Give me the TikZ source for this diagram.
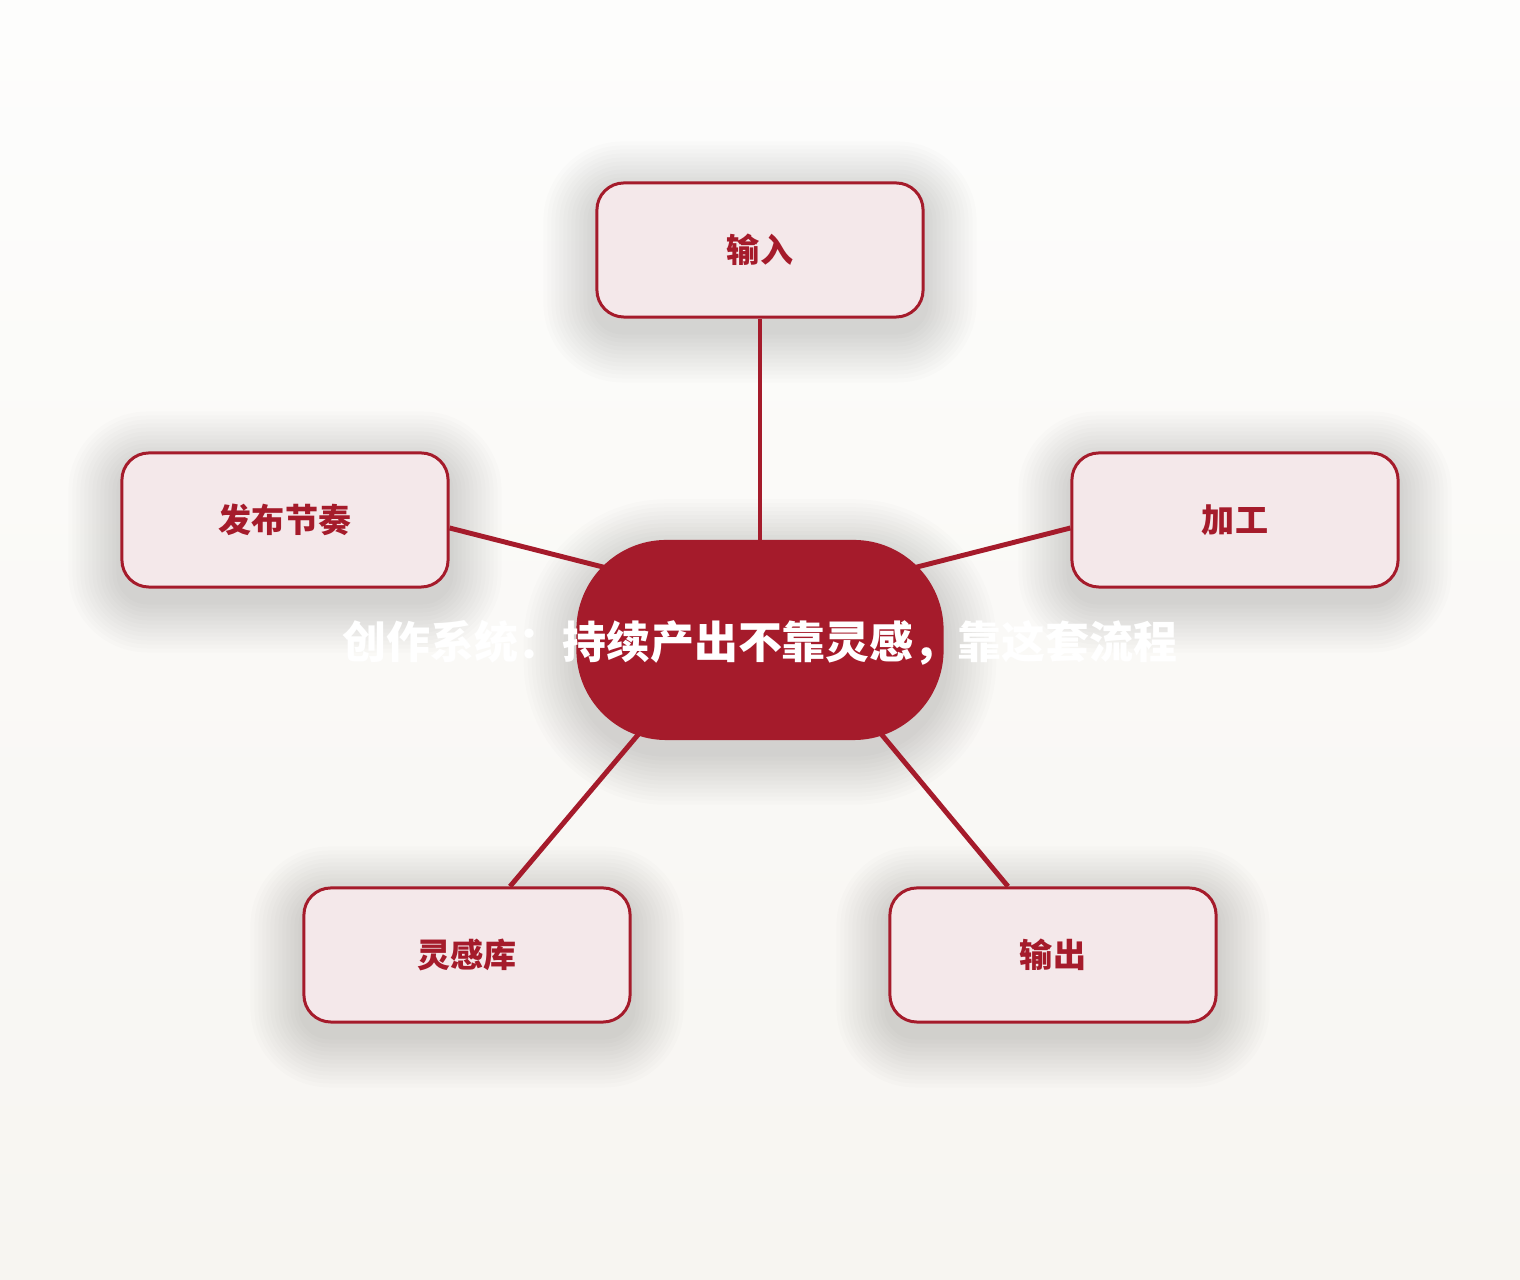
\documentclass[tikz,border=0pt]{standalone}
\usepackage{fontspec}
\setmainfont{Noto Sans CJK SC}
\definecolor{wine}{HTML}{A51B2B}
\definecolor{blush}{HTML}{F4E8EA}
\definecolor{paper}{HTML}{FDFDFC}
\definecolor{sand}{HTML}{F7F5F1}
\pgfdeclarelayer{bg}
\pgfdeclarelayer{edges}
\pgfsetlayers{bg,edges,main}

\begin{document}
\begin{tikzpicture}
[x=0.01cm,y=-0.01cm,
hub/.style={fill=wine,rounded corners=0.9cm,minimum width=3.67cm,minimum height=2cm},
hubtext/.style={text=white,font=\fontsize{12.5}{14}\selectfont\bfseries},
leaf/.style={draw=wine,line width=0.85pt,fill=blush,rounded corners=0.27cm,
  minimum width=3.26cm,minimum height=1.34cm,text=wine,font=\fontsize{9.4}{11}\selectfont\bfseries},
haze/.style={fill=black,opacity=0.011},
link/.style={wine,line width=1.4pt}]
\node[hub] (hub) at (760,640) {};
\node[hubtext] (title) at (760,643) {创作系统：持续产出不靠灵感，靠这套流程};
\node[leaf] (input) at (760,250) {输入};
\node[leaf] (process) at (1235,520) {加工};
\node[leaf] (output) at (1053,955) {输出};
\node[leaf] (ideas) at (467,955) {灵感库};
\node[leaf] (rhythm) at (285,520) {发布节奏};
\begin{pgfonlayer}{bg}
\shade[top color=paper,bottom color=sand] (0,0) rectangle (1520,1280);
% soft shadows under the boxes
\foreach \n/\r in {hub/0.9,input/0.27,process/0.27,output/0.27,ideas/0.27,rhythm/0.27}
  \foreach \s in {1,...,13}{
    \pgfmathsetmacro\rr{\r+\s*0.04}
    \fill[haze,rounded corners=\rr cm]
      ([shift={(-4*\s,-4*\s+12)}]\n.north west) rectangle ([shift={(4*\s,4*\s+12)}]\n.south east);
  }
\end{pgfonlayer}
\begin{pgfonlayer}{edges}
\draw[link] (hub.center) -- (input);
\draw[link] ([shift={(0,-33)}]hub.center) -- ([shift={(0,8)}]process.west);
\draw[link] ([shift={(0,-33)}]hub.center) -- ([shift={(0,8)}]rhythm.east);
\draw[link] ([shift={(43,0)}]hub.center) -- ([shift={(-45,0)}]output.north);
\draw[link] ([shift={(-42,0)}]hub.center) -- ([shift={(43,0)}]ideas.north);
\end{pgfonlayer}
\end{tikzpicture}
\end{document}
